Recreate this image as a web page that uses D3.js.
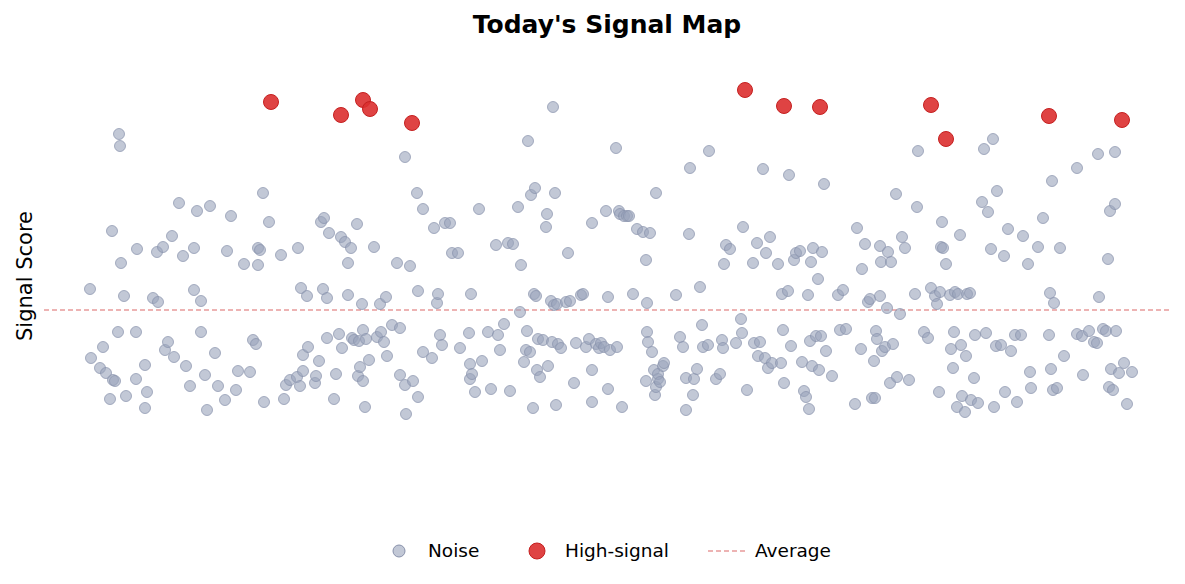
<!DOCTYPE html>
<html>
<head>
<meta charset="utf-8">
<script src="https://cdn.jsdelivr.net/npm/d3@7"></script>
<style>
  body { margin: 0; background: #fff; font-family: "DejaVu Sans", sans-serif; }
</style>
</head>
<body>
<div id="chart"></div>
<script>
// noise points: [time, score]
const noisePoints = [
[90,21],[91,-48],[103,-37],[100,-58],[106,-63],[113,-70],[115,-71],[110,-89],[118,-22],[119,176],[120,164],[112,79],[121,47],[124,14],[126,-86],[136,-22],[137,61],[136,-69],[145,-55],[147,-82],[145,-98],[153,12],[158,8],[157,58],[163,63],[165,-40],[168,-32],[172,74],[174,-47],[179,107],[183,54],[186,-56],[190,-76],[194,62],[194,20],[197,99],[201,9],[201,-22],[205,-65],[207,-100],[210,104],[215,-43],[218,-76],[225,-90],[227,59],[231,94],[236,-80],[238,-61],[244,46],[250,-62],[253,-30],[256,-34],[258,62],[258,45],[260,60],[263,117],[264,-92],[269,88],[281,55],[284,-89],[286,-75],[290,-70],[297,-67],[298,62],[300,-76],[301,22],[303,-45],[303,-61],[307,14],[308,-37],[315,-73],[316,-66],[319,-51],[321,88],[323,21],[324,92],[327,12],[327,-28],[329,77],[334,-89],[336,-64],[339,-24],[341,73],[342,-38],[345,68],[348,47],[348,15],[351,62],[352,-28],[354,-30],[357,86],[358,-66],[359,-31],[360,-57],[362,6],[363,-20],[363,-71],[365,-97],[366,-29],[369,-50],[374,63],[377,-27],[380,6],[381,-22],[384,-32],[386,13],[387,-46],[392,-15],[397,47],[400,-18],[400,-65],[405,153],[405,-75],[406,-104],[410,44],[413,-71],[417,117],[418,19],[418,-87],[423,101],[423,-42],[432,-48],[434,82],[437,7],[438,16],[440,-25],[442,-35],[445,87],[450,87],[452,57],[458,57],[460,-38],[470,-54],[471,16],[469,-23],[470,-69],[472,-64],[475,-82],[479,101],[482,-51],[488,-22],[491,-79],[496,65],[498,-25],[500,-40],[504,-14],[508,67],[510,-81],[513,66],[518,103],[521,45],[520,-2],[524,-52],[527,-21],[528,169],[526,-40],[530,-42],[531,115],[533,-98],[534,16],[535,122],[536,14],[537,-60],[538,-29],[540,-67],[543,-30],[546,83],[547,96],[548,-56],[551,9],[552,-32],[553,203],[554,5],[555,117],[556,-95],[557,6],[558,-34],[561,-38],[566,8],[568,57],[570,9],[574,-73],[576,-33],[581,15],[583,16],[586,-37],[589,-29],[592,-92],[592,87],[592,-60],[596,-34],[599,-38],[601,-33],[604,-37],[606,99],[608,13],[608,-79],[610,-40],[616,162],[617,-37],[619,99],[620,96],[622,-97],[624,94],[627,94],[629,94],[633,16],[637,81],[643,78],[646,-71],[646,50],[647,-22],[647,7],[648,-32],[650,77],[652,-42],[654,-60],[655,-85],[656,117],[656,-77],[658,-69],[658,-64],[660,-72],[663,-56],[664,-53],[676,15],[680,-27],[683,-37],[686,-100],[686,-68],[689,76],[690,142],[693,-85],[694,-69],[697,-59],[700,23],[702,-15],[703,-37],[708,-35],[709,159],[716,-69],[720,-64],[722,-30],[723,-38],[724,46],[726,65],[730,61],[736,-33],[741,-9],[742,-23],[743,83],[747,-80],[753,47],[754,-33],[757,67],[758,-46],[760,-32],[763,141],[765,-48],[766,57],[768,-58],[770,73],[772,-53],[778,46],[781,-53],[782,16],[783,-20],[784,-73],[788,19],[789,135],[791,-36],[794,50],[796,57],[800,59],[802,-52],[804,-81],[806,-87],[808,15],[809,-99],[810,-31],[811,48],[812,-56],[813,62],[816,-26],[818,31],[819,-60],[821,-26],[822,58],[824,126],[826,-41],[832,-66],[838,15],[840,-20],[843,20],[846,-19],[855,-94],[857,82],[861,-39],[862,41],[865,66],[868,8],[870,11],[872,-88],[874,-51],[875,-88],[876,-21],[877,-29],[880,64],[880,14],[881,48],[882,-41],[885,-37],[887,2],[888,58],[890,-73],[891,48],[893,-34],[896,116],[897,-67],[900,-4],[902,73],[905,62],[909,-70],[915,16],[917,103],[918,159],[924,-22],[928,-28],[931,22],[935,14],[937,6],[939,-82],[940,18],[941,63],[942,88],[943,62],[946,46],[950,15],[951,-39],[953,-58],[954,-22],[955,18],[957,-97],[958,16],[960,75],[961,-35],[962,-86],[965,-102],[966,-46],[967,16],[970,17],[971,-90],[974,-68],[975,-25],[978,-93],[982,108],[984,161],[986,-23],[988,98],[991,61],[993,171],[994,-97],[996,-36],[997,119],[1001,-35],[1004,54],[1005,-82],[1008,81],[1011,-41],[1015,-25],[1017,-92],[1021,-25],[1023,74],[1028,46],[1030,-62],[1031,-78],[1038,63],[1043,92],[1049,-25],[1050,17],[1051,-59],[1052,129],[1053,-80],[1057,-78],[1054,7],[1060,62],[1064,-46],[1077,-24],[1077,142],[1082,-26],[1083,-65],[1089,-21],[1094,-32],[1097,-33],[1098,156],[1099,13],[1103,-19],[1106,-21],[1108,51],[1109,-77],[1110,99],[1111,-59],[1113,-80],[1115,158],[1115,106],[1116,-21],[1119,-63],[1124,-53],[1127,-94],[1132,-62]
];
const highPoints = [
[271,208],[341,195],[363,210],[370,201],[412,187],[745,220],[784,204],[820,203],[931,205],[946,171],[1049,194],[1122,190]
];
const averageScore = 0;
const titleText = "Today's Signal Map";
const yLabel = "Signal Score";
const legendItems = ["Noise", "High-signal", "Average"];

const W = 1185, H = 584;
const svg = d3.select("#chart").append("svg").attr("width", W).attr("height", H);

const x = d3.scaleLinear().domain([0, 1185]).range([0, 1185]);
const y = d3.scaleLinear().domain([-220, 270]).range([530, 40]);

svg.append("text").attr("x", 607).attr("y", 33).attr("text-anchor", "middle")
    .attr("font-size", 25).attr("font-weight", "bold").text(titleText);

svg.append("text").attr("transform", "translate(32,276) rotate(-90)")
    .attr("text-anchor", "middle").attr("font-size", 21).text(yLabel);

svg.append("line").attr("x1", 44).attr("x2", 1170)
    .attr("y1", y(averageScore)).attr("y2", y(averageScore))
    .attr("stroke", "#e89a9a").attr("stroke-width", 1.3).attr("stroke-dasharray", "5,3");

svg.append("g").selectAll("circle").data(noisePoints).enter().append("circle")
    .attr("cx", d => x(d[0])).attr("cy", d => y(d[1])).attr("r", 5.5)
    .attr("fill", "#9aa3bb").attr("fill-opacity", 0.6)
    .attr("stroke", "#8891ab").attr("stroke-opacity", 0.7).attr("stroke-width", 1);

svg.append("g").selectAll("circle").data(highPoints).enter().append("circle")
    .attr("cx", d => x(d[0])).attr("cy", d => y(d[1])).attr("r", 7.5)
    .attr("fill", "#dc2f2f").attr("fill-opacity", 0.9)
    .attr("stroke", "#c52020").attr("stroke-width", 1);

// legend
const lg = svg.append("g").attr("font-size", 18.5);
lg.append("circle").attr("cx", 399).attr("cy", 551).attr("r", 6)
    .attr("fill", "#9aa3bb").attr("fill-opacity", 0.6).attr("stroke", "#8891ab");
lg.append("text").attr("x", 428).attr("y", 557).text(legendItems[0]);
lg.append("circle").attr("cx", 537).attr("cy", 551).attr("r", 8)
    .attr("fill", "#dc2f2f").attr("fill-opacity", 0.9).attr("stroke", "#c52020");
lg.append("text").attr("x", 565).attr("y", 557).text(legendItems[1]);
lg.append("line").attr("x1", 708).attr("x2", 746).attr("y1", 551).attr("y2", 551)
    .attr("stroke", "#e89a9a").attr("stroke-width", 1.3).attr("stroke-dasharray", "5,3");
lg.append("text").attr("x", 755).attr("y", 557).text(legendItems[2]);
</script>
</body>
</html>
